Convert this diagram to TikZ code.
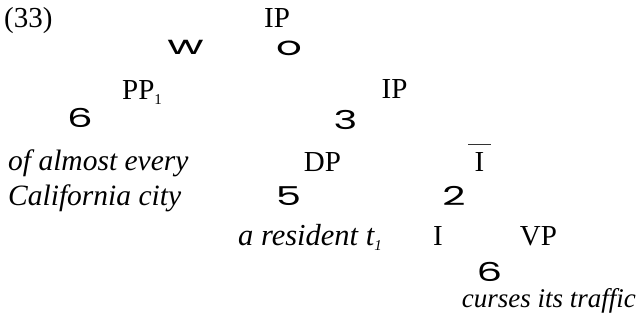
\documentclass[tikz,border=0pt]{standalone}
\usepackage{fontspec}
\setmainfont{Liberation Serif}
\newfontfamily\brfont{Poppins}
\begin{document}
\begin{tikzpicture}[x=1pt,y=-1pt,
  lbl/.style={inner sep=0pt, anchor=base, font=\fontsize{29}{31}\selectfont},
  words/.style={inner sep=0pt, anchor=base west, font=\fontsize{29.5}{31}\selectfont\itshape},
  br/.style={inner sep=0pt, anchor=base, font=\fontsize{26}{28}\selectfont\brfont, xscale=1.55},
  barline/.style={line width=1.3pt, black!80}
]
\useasboundingbox (0,0) rectangle (638,326);
\node[lbl, anchor=base west] (num) at (4,28) {(33)};
\node[lbl] (ip1) at (277,28) {IP};
\node[br, xscale=1.1] (bw) at (185.5,55) {w};
\node[br] (bo) at (289,56) {o};
\node[lbl, anchor=base west] (pp) at (122,100) {PP\raisebox{-5pt}{\fontsize{15}{15}\selectfont 1}};
\node[lbl] (ip2) at (394.5,99) {IP};
\node[br] (six1) at (80,128) {6};
\node[br] (three) at (345.5,130) {3};
\node[words] (w1) at (8,171) {of almost every};
\node[lbl] (dp) at (322.5,172) {DP};
\node[lbl] (ibar) at (479.5,172) {I};
\draw[barline] ([xshift=-11.5pt,yshift=8pt]ibar.north) -- ([xshift=11.5pt,yshift=8pt]ibar.north);
\node[words] (w2) at (8,206) {California city};
\node[br] (five) at (288.5,206) {5};
\node[br] (two) at (454,206) {2};
\node[words, font=\fontsize{30.5}{32}\selectfont\itshape] (w3) at (238,246) {a resident t\raisebox{-5pt}{\fontsize{15}{15}\selectfont 1}};
\node[lbl] (i) at (438,246) {I};
\node[lbl] (vp) at (538.5,246) {VP};
\node[br] (six2) at (489.5,281) {6};
\node[words, anchor=base east, font=\fontsize{27}{29}\selectfont\itshape] (w4) at (636,308) {curses its traffic};
\end{tikzpicture}
\end{document}
